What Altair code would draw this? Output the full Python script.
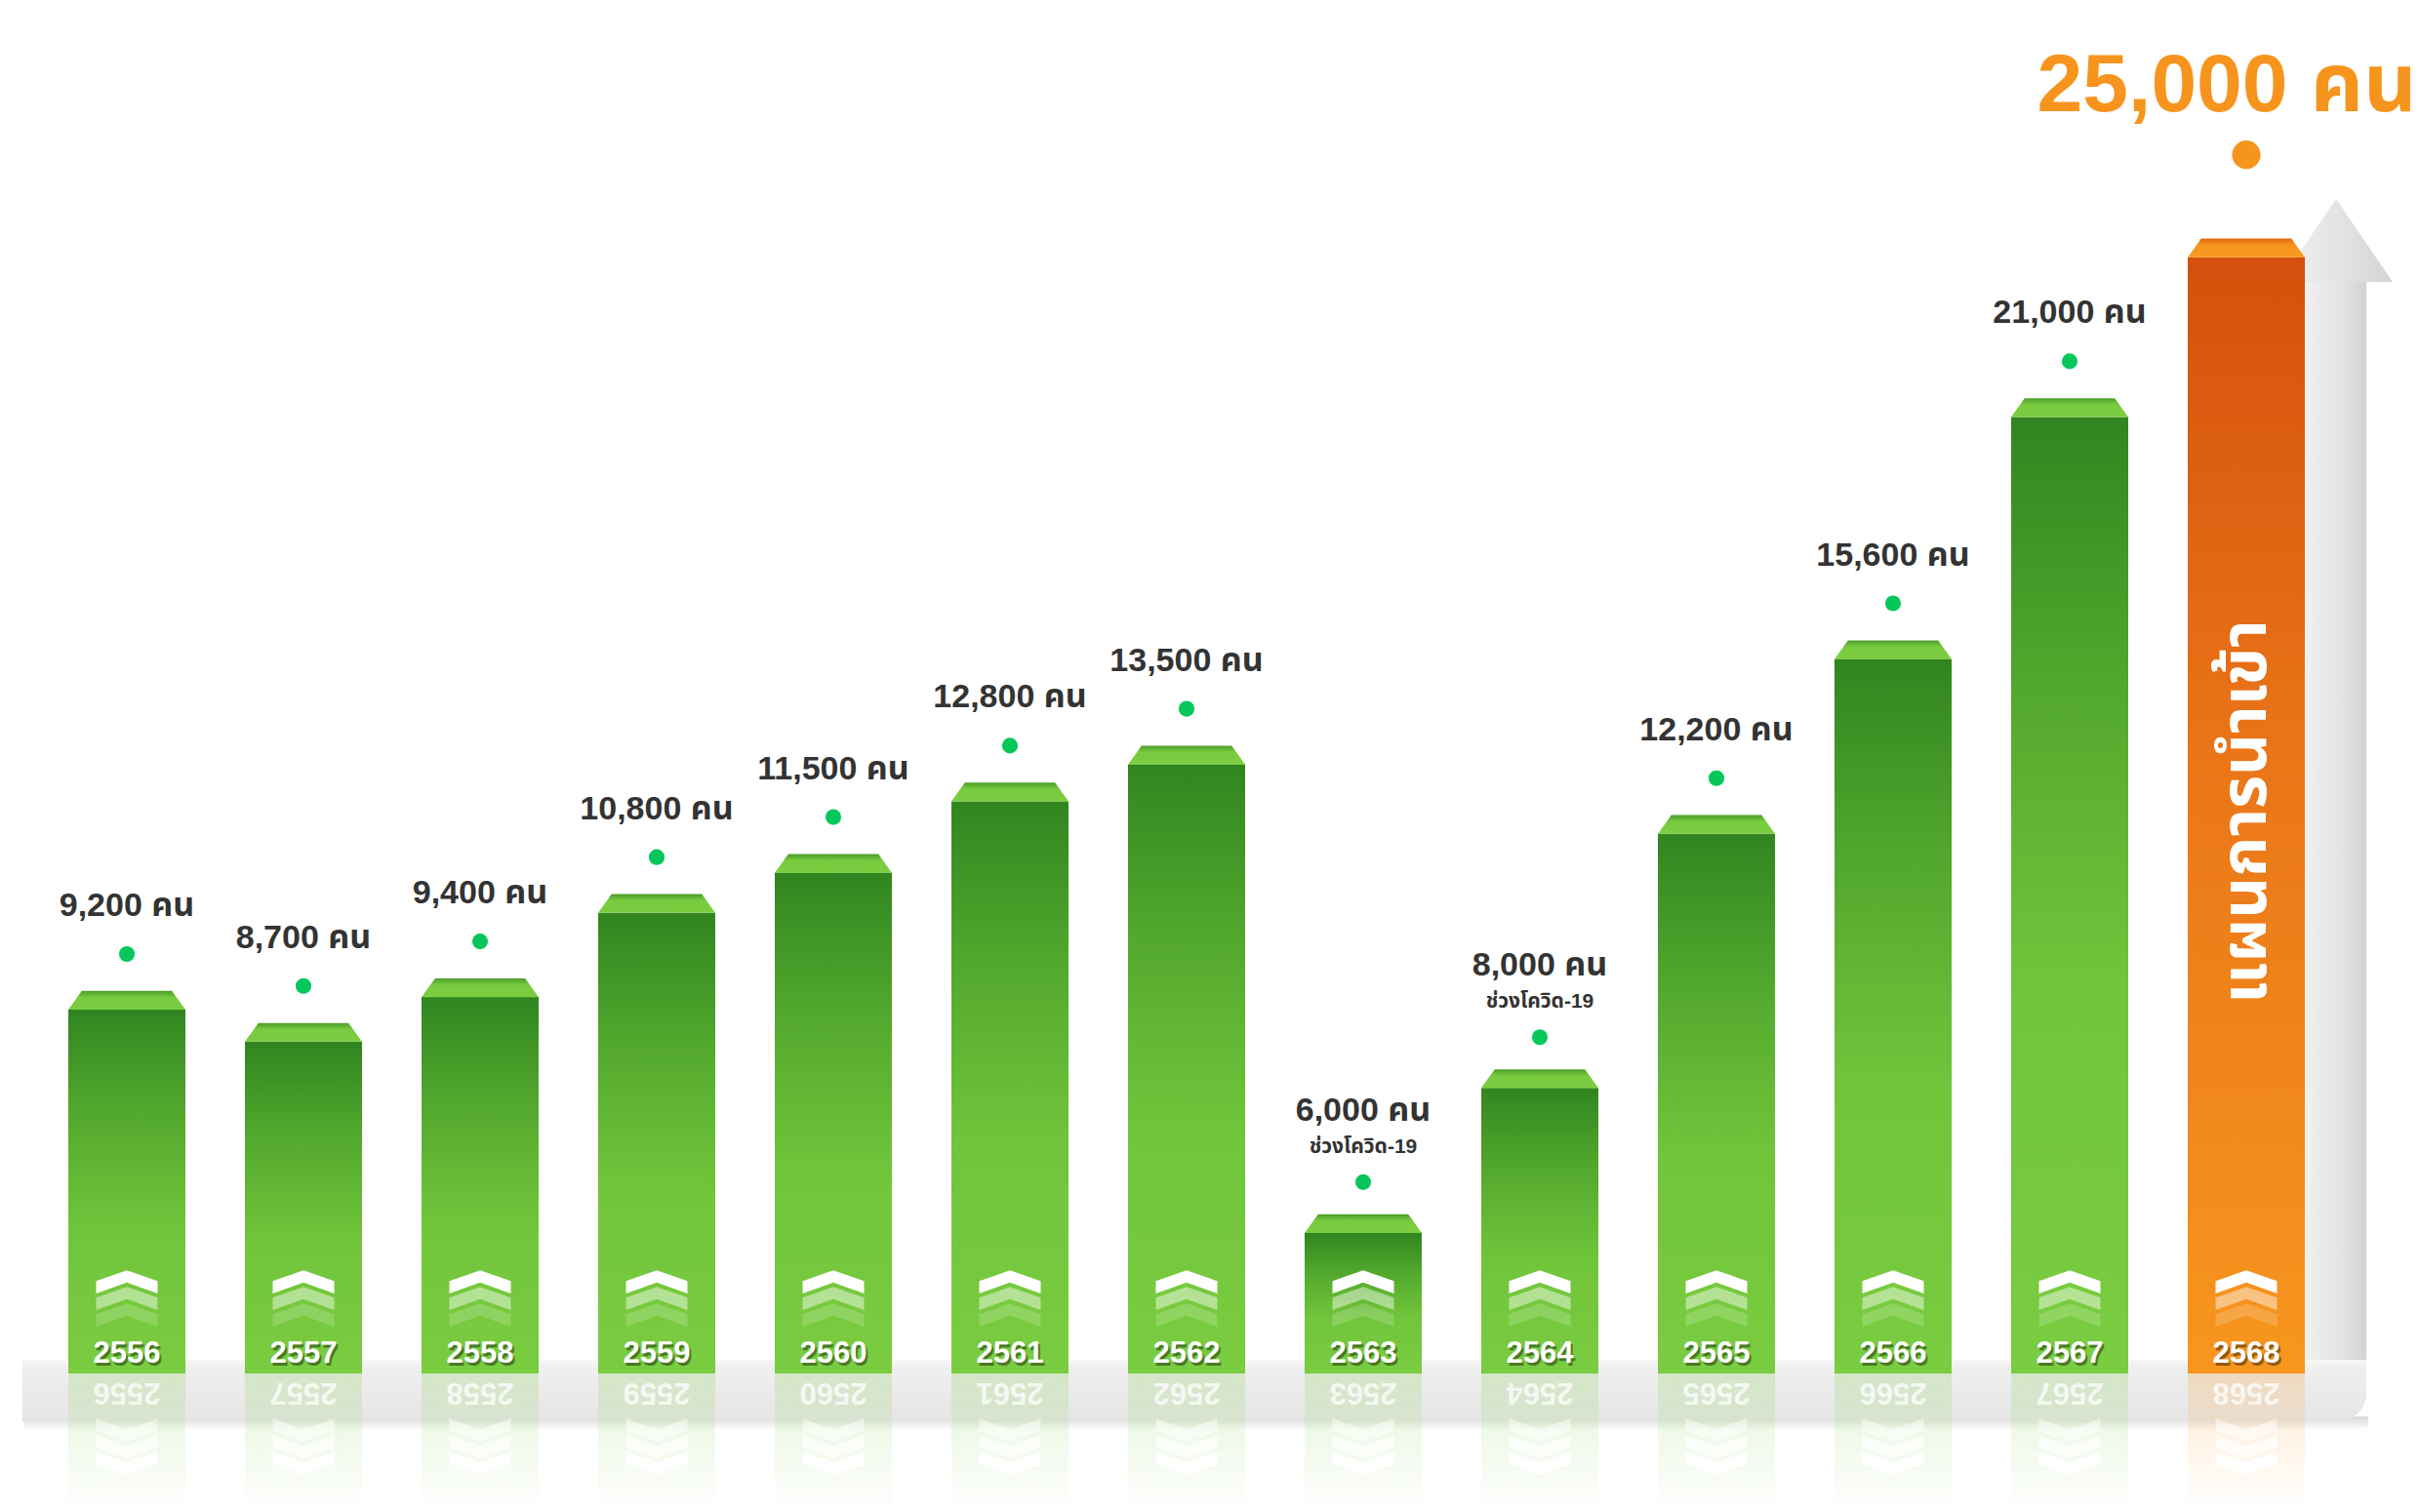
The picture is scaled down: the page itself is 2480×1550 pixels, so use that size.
import altair as alt
import pandas as pd

# ---------------- data ----------------
years = ["2556", "2557", "2558", "2559", "2560", "2561", "2562",
         "2563", "2564", "2565", "2566", "2567", "2568"]
values = [9200, 8700, 9400, 10800, 11500, 12800, 13500,
          6000, 8000, 12200, 15600, 21000, 25000]
notes = ["", "", "", "", "", "", "", "ช่วงโควิด-19", "ช่วงโควิด-19", "", "", "", ""]
kinds = ["actual"] * 12 + ["plan"]
unit = "คน"
plan_title = "แผนการนำเข้า"

df = pd.DataFrame({"year": years, "value": values, "note": notes, "kind": kinds})
df["label"] = df["value"].map(lambda v: f"{v:,} {unit}")

# ---------------- layout / style ----------------
W, H = 2480, 1550
BASE = 1408
Y_MIN, Y_MAX = 4334, 32177
FONT = "Liberation Sans, Noto Sans Thai, Noto Sans, DejaVu Sans, sans-serif"
GREEN_DOT = "#06c75a"
ORANGE = "#f7941d"

xs = alt.Scale(domain=years, range=[39.5, 2392.5], paddingInner=0.337, paddingOuter=0.1685)
ys = alt.Scale(type="sqrt", domain=[Y_MIN, Y_MAX], range=[BASE, 0], nice=False, zero=False)
X = alt.X("year:N", scale=xs, axis=None)
Y = alt.Y("value:Q", scale=ys, axis=None)


def grad(stops, horizontal=False):
    return {"gradient": "linear", "x1": 0, "y1": 0,
            "x2": 1 if horizontal else 0, "y2": 0 if horizontal else 1,
            "stops": [{"offset": o, "color": c} for o, c in stops]}


BEVEL = "M -1 0.16 L -0.77 -0.16 L 0.77 -0.16 L 1 0.16 Z"
CHEV_UP = "M 0 -0.5 L 1 -0.15 L 1 0.25 L 0 -0.1 L -1 0.25 L -1 -0.15 Z"
CHEV_DOWN = "M 0 0.5 L 1 0.15 L 1 -0.25 L 0 0.1 L -1 -0.25 L -1 0.15 Z"
HEAD = "M 0 -0.733 L 1 0.733 L -1 0.733 Z"

base = alt.Chart(df)
actual = base.transform_filter("datum.kind == 'actual'")
plan = base.transform_filter("datum.kind == 'plan'")
regular = base.transform_filter("datum.kind == 'actual' && datum.note == ''")
covid = base.transform_filter("datum.note != ''")
one = alt.Chart(alt.Data(values=[{"k": 1}]))

layers = []

# big grey arrow behind the plan bar
layers.append(one.mark_rect(
    fill=grad([(0, "#f0f0f0"), (0.6, "#e3e3e3"), (1, "#d3d3d3")], True),
    cornerRadiusBottomRight=60).encode(
    x=alt.value(2363), x2=alt.value(2425), y=alt.value(289), y2=alt.value(1458)))
layers.append(one.mark_point(
    shape=HEAD, size=13456, filled=True, opacity=1, strokeWidth=0,
    fill=grad([(0, "#f2f2f2"), (0.5, "#e4e4e4"), (1, "#d4d4d4")], True)).encode(
    x=alt.value(2394), y=alt.value(246.5)))

# platform
layers.append(one.mark_rect(
    fill=grad([(0, "#d8d8d8"), (1, "#ffffff")]),
    cornerRadiusBottomRight=60).encode(
    x=alt.value(25), x2=alt.value(2427), y=alt.value(1452), y2=alt.value(1466)))
layers.append(one.mark_rect(
    fill=grad([(0, "#f8f8f8"), (0.12, "#efefef"), (1, "#e5e5e5")]),
    cornerRadiusBottomRight=60).encode(
    x=alt.value(23), x2=alt.value(2425), y=alt.value(1394), y2=alt.value(1458)))

# reflections of bars (faded)
layers.append(actual.mark_bar(opacity=0.22, fill=grad([
    (0, "#7acc40"), (0.45, "#b9e39b"), (1, "#ffffff")])).encode(
    x=X, y=alt.value(BASE), y2=alt.value(H)))
layers.append(plan.mark_bar(opacity=0.22, fill=grad([
    (0, "#f7941d"), (0.45, "#fbc98c"), (1, "#ffffff")])).encode(
    x=X, y=alt.value(BASE), y2=alt.value(H)))

# main bars (from the baseline value up to the value)
layers.append(actual.mark_bar(fill=grad([
    (0, "#318520"), (0.28, "#52a82d"), (0.6, "#71c53b"), (1, "#7acc40")])).encode(
    x=X, y=Y, y2=alt.datum(Y_MIN)))
layers.append(plan.mark_bar(fill=grad([
    (0, "#d4500d"), (0.45, "#ea7618"), (1, "#f7961e")])).encode(
    x=X, y=Y, y2=alt.datum(Y_MIN)))

# bevelled tops
layers.append(actual.mark_point(
    shape=BEVEL, size=14400, filled=True, opacity=1, strokeWidth=0, yOffset=-9.5,
    fill=grad([(0, "#4b9d2a"), (0.35, "#78cb3e"), (1, "#7ccd41")])).encode(x=X, y=Y))
layers.append(plan.mark_point(
    shape=BEVEL, size=14400, filled=True, opacity=1, strokeWidth=0, yOffset=-9.5,
    fill=grad([(0, "#e06a12"), (0.35, "#f7941d"), (1, "#f79a22")])).encode(x=X, y=Y))

# chevrons
for yy, op in [(1352, 0.18), (1335, 0.45), (1318, 1.0)]:
    layers.append(base.mark_point(
        shape=CHEV_UP, size=3969, filled=True, color="white", opacity=op, strokeWidth=0).encode(
        x=X, y=alt.value(yy)))

# reflected chevrons under the platform
for yy, op in [(1462, 0.5), (1479, 0.7), (1496, 0.95)]:
    layers.append(base.mark_point(
        shape=CHEV_DOWN, size=3969, filled=True, color="white", opacity=op, strokeWidth=0).encode(
        x=X, y=alt.value(yy)))

# year labels (shadow, label, reflection)
layers.append(base.mark_text(
    font=FONT, fontSize=31, fontWeight="bold", color="black", opacity=0.4,
    baseline="middle", dx=2, dy=3).encode(x=X, y=alt.value(1388), text="year:N"))
layers.append(base.mark_text(
    font=FONT, fontSize=31, fontWeight="bold", color="white",
    baseline="middle").encode(x=X, y=alt.value(1388), text="year:N"))
layers.append(base.mark_text(
    font=FONT, fontSize=31, fontWeight="bold", color="white", opacity=0.75, angle=180,
    baseline="middle").encode(x=X, y=alt.value(1427), text="year:N"))

# value dots and labels
layers.append(regular.mark_circle(size=260, color=GREEN_DOT, opacity=1, yOffset=-57).encode(x=X, y=Y))
layers.append(regular.mark_text(
    font=FONT, fontSize=34, fontWeight="bold", color="#333333", baseline="alphabetic",
    yOffset=-96).encode(x=X, y=Y, text="label:N"))

layers.append(covid.mark_circle(size=260, color=GREEN_DOT, opacity=1, yOffset=-52).encode(x=X, y=Y))
layers.append(covid.mark_text(
    font=FONT, fontSize=34, fontWeight="bold", color="#333333", baseline="alphabetic",
    yOffset=-115).encode(x=X, y=Y, text="label:N"))
layers.append(covid.mark_text(
    font=FONT, fontSize=21, fontWeight="bold", color="#333333", baseline="alphabetic",
    yOffset=-82).encode(x=X, y=Y, text="note:N"))

layers.append(plan.mark_circle(size=850, color=ORANGE, opacity=1, yOffset=-105).encode(x=X, y=Y))
layers.append(plan.mark_text(
    font=FONT, fontSize=84, fontWeight="bold", color=ORANGE, baseline="alphabetic",
    yOffset=-150, xOffset=-20).encode(x=X, y=Y, text="label:N"))

# vertical caption inside plan bar
layers.append(plan.mark_text(
    font=FONT, fontSize=66, fontWeight="bold", color="white", angle=270,
    baseline="middle", align="center").encode(x=X, y=alt.value(832), text=alt.value(plan_title)))

chart = alt.layer(*layers).properties(
    width=W, height=H, padding=0, background="white",
    autosize=alt.AutoSizeParams(type="none"),
).configure_view(strokeWidth=0)

chart.save("out.html", embed_options={"renderer": "svg", "actions": False})
